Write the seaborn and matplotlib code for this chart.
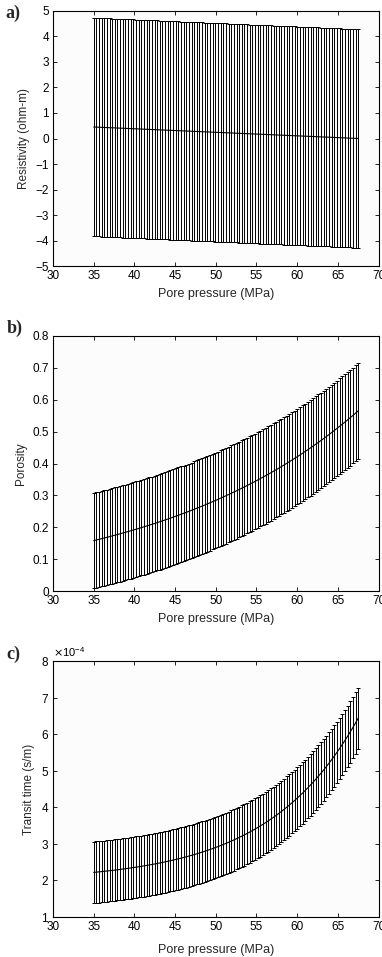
import matplotlib
matplotlib.use("Agg")
import matplotlib.pyplot as plt
import seaborn as sns
import numpy as np
from matplotlib.ticker import ScalarFormatter, FixedLocator

# ---------------- data ----------------
pore_pressure = [
    35.0, 35.325, 35.65, 35.975, 36.3, 36.625, 36.95, 37.275, 37.6, 37.925,
    38.25, 38.575, 38.9, 39.225, 39.55, 39.875, 40.2, 40.525, 40.85, 41.175,
    41.5, 41.825, 42.15, 42.475, 42.8, 43.125, 43.45, 43.775, 44.1, 44.425,
    44.75, 45.075, 45.4, 45.725, 46.05, 46.375, 46.7, 47.025, 47.35, 47.675,
    48.0, 48.325, 48.65, 48.975, 49.3, 49.625, 49.95, 50.275, 50.6, 50.925,
    51.25, 51.575, 51.9, 52.225, 52.55, 52.875, 53.2, 53.525, 53.85, 54.175,
    54.5, 54.825, 55.15, 55.475, 55.8, 56.125, 56.45, 56.775, 57.1, 57.425,
    57.75, 58.075, 58.4, 58.725, 59.05, 59.375, 59.7, 60.025, 60.35, 60.675,
    61.0, 61.325, 61.65, 61.975, 62.3, 62.625, 62.95, 63.275, 63.6, 63.925,
    64.25, 64.575, 64.9, 65.225, 65.55, 65.875, 66.2, 66.525, 66.85, 67.175,
    67.5,
]

resistivity_mean = [
    0.450, 0.446, 0.441, 0.437, 0.432, 0.428, 0.423, 0.419, 0.414, 0.410,
    0.405, 0.401, 0.396, 0.392, 0.387, 0.383, 0.378, 0.374, 0.369, 0.365,
    0.360, 0.356, 0.351, 0.347, 0.342, 0.338, 0.333, 0.329, 0.324, 0.320,
    0.315, 0.311, 0.306, 0.302, 0.297, 0.293, 0.288, 0.284, 0.279, 0.275,
    0.270, 0.266, 0.261, 0.257, 0.252, 0.248, 0.243, 0.239, 0.234, 0.230,
    0.225, 0.221, 0.216, 0.212, 0.207, 0.203, 0.198, 0.194, 0.189, 0.185,
    0.180, 0.176, 0.171, 0.167, 0.162, 0.158, 0.153, 0.149, 0.144, 0.140,
    0.135, 0.131, 0.126, 0.122, 0.117, 0.113, 0.108, 0.104, 0.099, 0.095,
    0.090, 0.086, 0.081, 0.077, 0.072, 0.068, 0.063, 0.059, 0.054, 0.050,
    0.045, 0.041, 0.036, 0.032, 0.027, 0.023, 0.018, 0.014, 0.009, 0.005,
    0.000,
]
resistivity_err = 4.275

porosity_mean = [
    0.1580, 0.1600, 0.1621, 0.1642, 0.1663, 0.1684, 0.1706, 0.1727, 0.1750, 0.1772,
    0.1795, 0.1818, 0.1841, 0.1865, 0.1889, 0.1913, 0.1937, 0.1962, 0.1987, 0.2013,
    0.2039, 0.2065, 0.2091, 0.2118, 0.2145, 0.2173, 0.2200, 0.2229, 0.2257, 0.2286,
    0.2316, 0.2345, 0.2375, 0.2406, 0.2437, 0.2468, 0.2499, 0.2531, 0.2564, 0.2597,
    0.2630, 0.2664, 0.2698, 0.2733, 0.2768, 0.2803, 0.2839, 0.2875, 0.2912, 0.2950,
    0.2987, 0.3026, 0.3065, 0.3104, 0.3144, 0.3184, 0.3225, 0.3266, 0.3308, 0.3350,
    0.3393, 0.3437, 0.3481, 0.3526, 0.3571, 0.3617, 0.3663, 0.3710, 0.3758, 0.3806,
    0.3854, 0.3904, 0.3954, 0.4005, 0.4056, 0.4108, 0.4161, 0.4214, 0.4268, 0.4323,
    0.4378, 0.4434, 0.4491, 0.4549, 0.4607, 0.4666, 0.4726, 0.4786, 0.4848, 0.4910,
    0.4973, 0.5037, 0.5101, 0.5167, 0.5233, 0.5300, 0.5368, 0.5437, 0.5507, 0.5577,
    0.5649,
]
porosity_err = 0.15

transit_mean_e4 = [
    2.2198, 2.2269, 2.2342, 2.2417, 2.2494, 2.2574, 2.2656, 2.2741, 2.2828, 2.2917,
    2.3009, 2.3104, 2.3202, 2.3303, 2.3406, 2.3513, 2.3623, 2.3736, 2.3853, 2.3973,
    2.4099, 2.4226, 2.4357, 2.4492, 2.4631, 2.4774, 2.4922, 2.5073, 2.5230, 2.5390,
    2.5556, 2.5727, 2.5902, 2.6083, 2.6269, 2.6461, 2.6658, 2.6862, 2.7071, 2.7287,
    2.7508, 2.7737, 2.7972, 2.8214, 2.8464, 2.8721, 2.8985, 2.9258, 2.9538, 2.9827,
    3.0124, 3.0430, 3.0746, 3.1070, 3.1404, 3.1748, 3.2103, 3.2468, 3.2843, 3.3230,
    3.3629, 3.4039, 3.4461, 3.4896, 3.5344, 3.5805, 3.6280, 3.6768, 3.7272, 3.7790,
    3.8324, 3.8873, 3.9439, 4.0022, 4.0622, 4.1239, 4.1875, 4.2530, 4.3205, 4.3899,
    4.4614, 4.5350, 4.6109, 4.6889, 4.7693, 4.8521, 4.9373, 5.0250, 5.1154, 5.2084,
    5.3042, 5.4028, 5.5044, 5.6090, 5.7167, 5.8276, 5.9417, 6.0593, 6.1803, 6.3050,
    6.4333,
]
transit_err_e4 = 0.84

x_ticks = [30, 35, 40, 45, 50, 55, 60, 65, 70]
resist_ticks = [-5, -4, -3, -2, -1, 0, 1, 2, 3, 4, 5]
poro_ticks = [0, 0.1, 0.2, 0.3, 0.4, 0.5, 0.6, 0.7, 0.8]
poro_tick_labels = ["0", "0.1", "0.2", "0.3", "0.4", "0.5", "0.6", "0.7", "0.8"]
transit_ticks_e4 = [1, 2, 3, 4, 5, 6, 7, 8]

x_label = "Pore pressure (MPa)"
y_labels = ["Resistivity (ohm-m)", "Porosity", "Transit time (s/m)"]
panel_labels = ["a)", "b)", "c)"]

# ---------------- style ----------------
sns.set_theme(style="ticks")
plt.rcParams["font.family"] = ["Liberation Sans", "DejaVu Sans"]
plt.rcParams["axes.unicode_minus"] = True

fig = plt.figure(figsize=(3.82, 9.57), dpi=100)
W, H = 382.0, 957.0
# axes rectangles in pixels (left, top, right, bottom)
boxes = [(53, 10.7, 378.5, 266.3), (53, 336.0, 378.5, 591.0), (53, 661.0, 378.5, 917.0)]
axes = []
for (l, t, r, b) in boxes:
    ax = fig.add_axes([l / W, 1 - b / H, (r - l) / W, (b - t) / H])
    axes.append(ax)

x = np.array(pore_pressure)
scale_c = 1e-4
series = [
    (np.array(resistivity_mean), resistivity_err),
    (np.array(porosity_mean), porosity_err),
    (np.array(transit_mean_e4) * scale_c, transit_err_e4 * scale_c),
]

for ax, (m, e) in zip(axes, series):
    ax.errorbar(x, m, yerr=e, fmt="none", ecolor="black", elinewidth=0.7,
                capsize=1.3, capthick=0.7, zorder=2)
    sns.lineplot(x=x, y=m, ax=ax, color="black", linewidth=0.8, zorder=3)
    ax.set_facecolor("#fcfcfc")
    ax.set_xlim(30, 70)
    ax.xaxis.set_major_locator(FixedLocator(x_ticks))
    ax.tick_params(direction="in", top=True, right=True, length=3, width=0.6,
                   labelsize=8.5, colors="black")
    ax.tick_params(axis="x", pad=3)
    ax.tick_params(axis="y", pad=3)
    for s in ax.spines.values():
        s.set_color("black")
        s.set_linewidth(0.8)
    ax.set_xlabel(x_label, fontsize=9, labelpad=4)

axes[0].set_ylim(-5, 5)
axes[0].set_yticks(resist_ticks)
axes[1].set_ylim(0, 0.8)
axes[1].set_yticks(poro_ticks)
axes[1].set_yticklabels(poro_tick_labels)
axes[2].set_ylim(1 * scale_c, 8 * scale_c)
axes[2].set_yticks([v * scale_c for v in transit_ticks_e4])
fmt = ScalarFormatter(useMathText=True)
fmt.set_powerlimits((-3, 3))
axes[2].yaxis.set_major_formatter(fmt)
axes[2].yaxis.get_offset_text().set_fontsize(8)
axes[2].xaxis.labelpad = 8

for ax, yl in zip(axes, y_labels):
    ax.set_ylabel(yl, fontsize=8.5, labelpad=4)

label_pos = [(5, 18), (7, 333), (6, 659)]
for (px, py), lab in zip(label_pos, panel_labels):
    fig.text(px / W, 1 - py / H, lab, fontsize=13, fontweight="bold",
             family=["Liberation Serif", "DejaVu Serif"], ha="left", va="baseline")

fig.savefig("out.png", dpi=100)
